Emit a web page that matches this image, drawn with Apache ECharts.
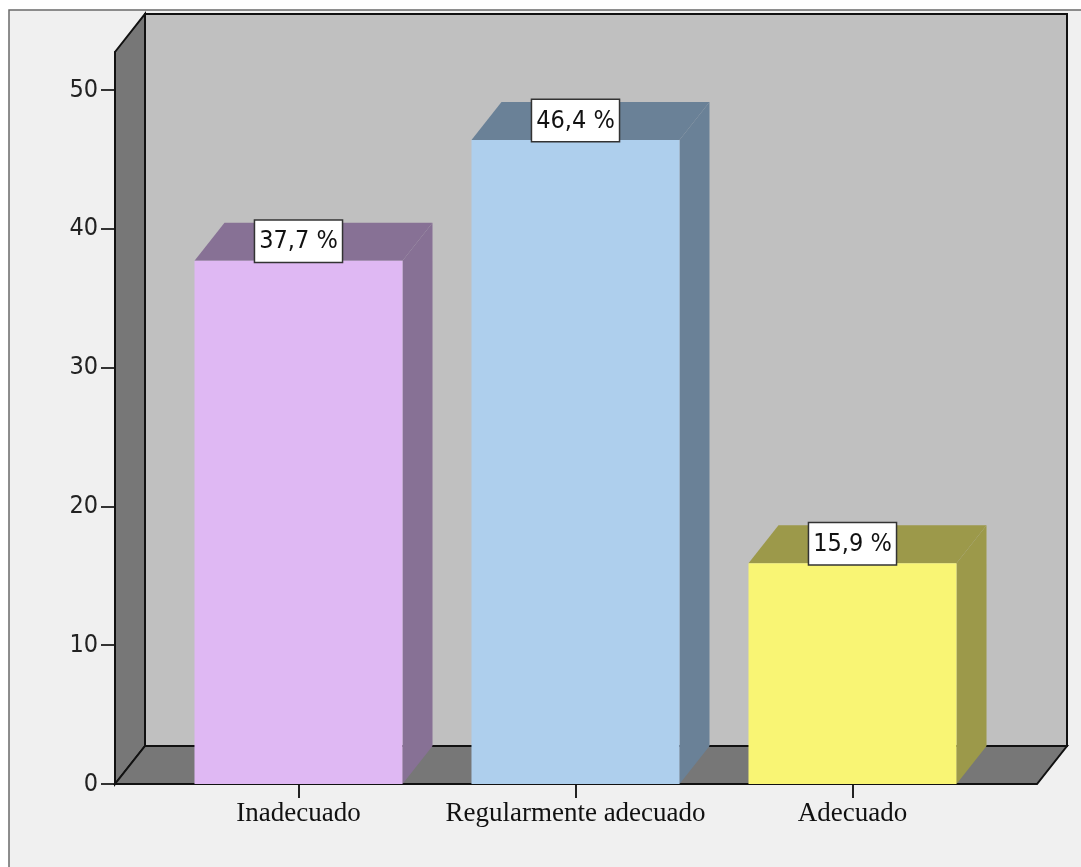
<!DOCTYPE html>
<html><head><meta charset="utf-8">
<script src="https://cdn.jsdelivr.net/npm/echarts@6/dist/echarts.min.js"></script>
<style>html,body{margin:0;padding:0;background:#fff}#c{width:1081px;height:867px}</style>
</head><body><div id="c"></div>
<script>
// ---- data ----
const categories = ['Inadecuado', 'Regularmente adecuado', 'Adecuado'];
const percentages = [37.7, 46.4, 15.9];
const yTickValues = [0, 10, 20, 30, 40, 50];
const yMax = 52.75;

// ---- styles ----
const frontColors = ['#dfb8f3', '#aecfed', '#f9f574'];
const shadeColors = ['#877195', '#6a8197', '#9c994a'];
const DX = 30, DY = -38;
const sansNarrow = "'Liberation Sans Narrow', 'DejaVu Sans Condensed', 'Liberation Sans', sans-serif";

function fmt(v) { return v.toFixed(1).replace('.', ',') + ' %'; }

function renderWalls(params, api) {
  const cs = params.coordSys;
  const x = cs.x, y = cs.y, w = cs.width, h = cs.height;
  const st = { stroke: '#111', lineWidth: 2, lineJoin: 'miter' };
  return { type: 'group', children: [
    { type: 'rect', shape: { x: x + DX, y: y + DY, width: w, height: h }, style: Object.assign({ fill: '#c0c0c0' }, st) },
    { type: 'polygon', shape: { points: [[x, y + h], [x, y], [x + DX, y + DY], [x + DX, y + h + DY]] }, style: Object.assign({ fill: '#777777' }, st) },
    { type: 'polygon', shape: { points: [[x, y + h], [x + w, y + h], [x + w + DX, y + h + DY], [x + DX, y + h + DY]] }, style: Object.assign({ fill: '#777777' }, st) }
  ]};
}

function renderBar(params, api) {
  const i = api.value(0), v = api.value(1);
  const top = api.coord([i, v]);
  const base = api.coord([i, 0]);
  const band = api.size([1, 0])[0];
  const w = band * 0.751;
  const x0 = top[0] - w / 2, x1 = x0 + w;
  const ty = top[1], by = base[1];
  const idx = params.dataIndex;
  return { type: 'group', children: [
    { type: 'polygon', shape: { points: [[x0, ty], [x0 + DX, ty + DY], [x1 + DX, ty + DY], [x1, ty]] }, style: { fill: shadeColors[idx] } },
    { type: 'polygon', shape: { points: [[x1, ty], [x1 + DX, ty + DY], [x1 + DX, by + DY], [x1, by]] }, style: { fill: shadeColors[idx] } },
    { type: 'rect', shape: { x: x0, y: ty, width: w, height: by - ty }, style: { fill: frontColors[idx] } },
    { type: 'text', x: top[0], y: ty + 1, z2: 10, style: {
        text: fmt(v), align: 'center', verticalAlign: 'bottom',
        fontSize: 25, fontFamily: sansNarrow, fill: '#111', lineHeight: 26,
        backgroundColor: '#ffffff', borderColor: '#333', borderWidth: 1.5,
        padding: [8, 4, 7, 4]
    } }
  ]};
}

const chart = echarts.init(document.getElementById('c'), null, { renderer: 'canvas' });
chart.setOption({
  backgroundColor: '#ffffff',
  animation: false,
  graphic: [{
    type: 'rect', x: 9, y: 10, z: -100,
    shape: { x: 0, y: 0, width: 1200, height: 1000 },
    style: { fill: '#f0f0f0', stroke: '#6a6a6a', lineWidth: 1.5 }
  }],
  grid: [
    { left: 115, right: 44, top: 52, bottom: 83 },
    { left: 160, right: 90, top: 52, bottom: 83 }
  ],
  xAxis: [
    { type: 'value', gridIndex: 0, min: 0, max: 1, show: false },
    { type: 'category', gridIndex: 1, data: categories,
      axisLine: { show: true, lineStyle: { color: '#111', width: 2 } },
      axisTick: { show: true, alignWithLabel: true, interval: 0, length: 14, lineStyle: { color: '#222', width: 2 } },
      axisLabel: { interval: 0, margin: 16, fontSize: 27, fontFamily: "'Liberation Serif', 'Times New Roman', serif", color: '#111' },
      splitLine: { show: false }
    }
  ],
  yAxis: [
    { type: 'value', gridIndex: 0, min: 0, max: yMax,
      axisLine: { show: true, lineStyle: { color: '#111', width: 2 } },
      axisTick: { show: true, length: 14, customValues: yTickValues, lineStyle: { color: '#333', width: 2 } },
      axisLabel: { margin: 17, fontSize: 25, fontFamily: sansNarrow, color: '#222', customValues: yTickValues },
      splitLine: { show: false }
    },
    { type: 'value', gridIndex: 1, min: 0, max: yMax, show: false }
  ],
  series: [
    { type: 'custom', xAxisIndex: 0, yAxisIndex: 0, z: 1, renderItem: renderWalls, data: [[0, 0]], silent: true },
    { type: 'custom', xAxisIndex: 1, yAxisIndex: 1, z: 3, renderItem: renderBar,
      data: percentages.map((v, i) => [i, v]) }
  ]
});
</script>
</body></html>
